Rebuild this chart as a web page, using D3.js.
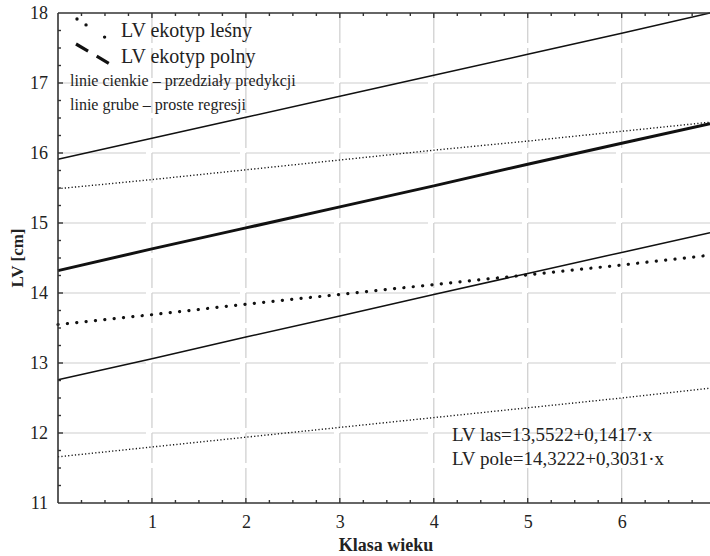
<!DOCTYPE html>
<html>
<head>
<meta charset="utf-8">
<script src="https://cdn.jsdelivr.net/npm/d3@7"></script>
<style>
  body { margin: 0; background: #fff; }
  svg text { font-family: 'Liberation Serif', 'Times New Roman', 'DejaVu Serif', serif !important; fill: #222; }
</style>
</head>
<body>
<div id="chart"></div>
<script>
// x positions (klasa wieku) where values were read
var xs = [0, 1, 2, 3, 4, 5, 6, 6.94];
// regression lines (thick)
var lasReg = [13.55, 13.69, 13.84, 13.98, 14.12, 14.26, 14.40, 14.54];
var poleReg = [14.32, 14.63, 14.93, 15.23, 15.53, 15.84, 16.14, 16.42];
// prediction intervals (thin)
var lasUpper = [15.49, 15.62, 15.76, 15.90, 16.04, 16.17, 16.31, 16.44];
var lasLower = [11.66, 11.80, 11.94, 12.08, 12.22, 12.36, 12.50, 12.64];
var poleUpper = [15.91, 16.21, 16.51, 16.81, 17.11, 17.41, 17.71, 18.00];
var poleLower = [12.76, 13.06, 13.37, 13.67, 13.98, 14.28, 14.58, 14.86];

var xTicks = [1, 2, 3, 4, 5, 6];
var yTicks = [11, 12, 13, 14, 15, 16, 17, 18];
var legendLabels = ["LV ekotyp leśny", "LV ekotyp polny"];
var notes = ["linie cienkie – przedziały predykcji", "linie grube – proste regresji"];
var equations = ["LV las=13,5522+0,1417·x", "LV pole=14,3222+0,3031·x"];

var width = 710, height = 556;
var margin = {left: 58, right: 0, top: 13, bottom: 53};
var serif = "'Liberation Serif', 'Times New Roman', serif";

var svg = d3.select("#chart").append("svg")
    .attr("width", width)
    .attr("height", height)
    .style("font-family", serif);

var x = d3.scaleLinear().domain([0, 6.94]).range([margin.left, width - margin.right]);
var y = d3.scaleLinear().domain([11, 18]).range([height - margin.bottom, margin.top]);

// grid
var grid = svg.append("g").attr("stroke", "#cdcdcd").attr("stroke-width", 1.2);
grid.selectAll(".vg").data(xTicks).enter().append("line")
    .attr("x1", function(d) { return x(d); })
    .attr("x2", function(d) { return x(d); })
    .attr("y1", y(18)).attr("y2", y(11))
    .attr("stroke-dasharray", "30,5");
grid.selectAll(".hg").data(yTicks.slice(1, -1)).enter().append("line")
    .attr("x1", x(0)).attr("x2", width)
    .attr("y1", function(d) { return y(d); })
    .attr("y2", function(d) { return y(d); })
    .attr("stroke-dasharray", "88,6");

// series
function series(vals) {
    return xs.map(function(v, i) { return [v, vals[i]]; });
}
var line = d3.line()
    .x(function(d) { return x(d[0]); })
    .y(function(d) { return y(d[1]); });

var lines = [
    {vals: poleUpper, w: 1.5, dash: null, cap: "butt"},
    {vals: poleLower, w: 1.5, dash: null, cap: "butt"},
    {vals: lasUpper, w: 1.4, dash: "1.2,2.2", cap: "butt"},
    {vals: lasLower, w: 1.4, dash: "1.2,2.2", cap: "butt"},
    {vals: poleReg, w: 3, dash: null, cap: "butt"},
    {vals: lasReg, w: 3.2, dash: "0.1,9.3", cap: "round"}
];
svg.append("g").selectAll("path").data(lines).enter().append("path")
    .attr("d", function(d) { return line(series(d.vals)); })
    .attr("fill", "none")
    .attr("stroke", "#111")
    .attr("stroke-width", function(d) { return d.w; })
    .attr("stroke-dasharray", function(d) { return d.dash; })
    .attr("stroke-linecap", function(d) { return d.cap; });

// axes
var xAxis = d3.axisBottom(x).tickValues(xTicks).tickSize(0).tickPadding(12)
    .tickFormat(d3.format("d"));
var gx = svg.append("g").attr("transform", "translate(0," + y(11) + ")").call(xAxis);
var yAxis = d3.axisLeft(y).tickValues(yTicks).tickSize(0).tickPadding(10)
    .tickFormat(d3.format("d"));
var gy = svg.append("g").attr("transform", "translate(" + x(0) + ",0)").call(yAxis);
[gx, gy].forEach(function(g) {
    g.attr("font-family", null);
    g.select(".domain").remove();
    g.selectAll("text").attr("font-size", 18).attr("fill", "#222")
        .style("font-family", serif);
});

// frame and inward ticks
var frame = svg.append("g").attr("stroke", "#333").attr("stroke-width", 1.6);
frame.append("line").attr("x1", x(0)).attr("x2", width).attr("y1", y(11)).attr("y2", y(11));
frame.append("line").attr("x1", x(0)).attr("x2", width).attr("y1", y(18)).attr("y2", y(18));
frame.append("line").attr("x1", x(0)).attr("x2", x(0)).attr("y1", y(18)).attr("y2", y(11));

var xMinor = d3.range(0.25, 6.94, 0.25);
var yMinor = d3.range(11.25, 18, 0.25);
var ticks = svg.append("g").attr("stroke", "#333").attr("stroke-width", 1.4);
ticks.selectAll(".xb").data(xMinor).enter().append("line")
    .attr("x1", function(d) { return x(d); }).attr("x2", function(d) { return x(d); })
    .attr("y1", y(11)).attr("y2", function(d) { return y(11) - (d % 1 === 0 ? 5 : 3); });
ticks.selectAll(".xt").data(xMinor).enter().append("line")
    .attr("x1", function(d) { return x(d); }).attr("x2", function(d) { return x(d); })
    .attr("y1", y(18)).attr("y2", function(d) { return y(18) + (d % 1 === 0 ? 5 : 3); });
ticks.selectAll(".yl").data(yMinor).enter().append("line")
    .attr("x1", x(0)).attr("x2", function(d) { return x(0) + (d % 1 === 0 ? 5 : 3); })
    .attr("y1", function(d) { return y(d); }).attr("y2", function(d) { return y(d); });

// axis titles
svg.append("text").attr("x", 386).attr("y", 551).attr("text-anchor", "middle")
    .attr("font-size", 18).attr("font-weight", "bold").attr("fill", "#333")
    .text("Klasa wieku");
svg.append("text").attr("transform", "translate(23,258) rotate(-90)")
    .attr("text-anchor", "middle").attr("font-size", 17).attr("font-weight", "bold")
    .attr("fill", "#333").text("LV [cm]");

// legend
var leg = svg.append("g");
leg.append("line").attr("x1", 77).attr("y1", 19).attr("x2", 106).attr("y2", 38)
    .attr("stroke", "#111").attr("stroke-width", 3.4).attr("stroke-linecap", "round")
    .attr("stroke-dasharray", "0,10.8,0,22.2,0,60");
leg.append("line").attr("x1", 76).attr("y1", 44).attr("x2", 110).attr("y2", 64)
    .attr("stroke", "#111").attr("stroke-width", 3.2)
    .attr("stroke-dasharray", "14,10");
leg.selectAll(".lt").data(legendLabels).enter().append("text")
    .attr("x", 121).attr("y", function(d, i) { return 37 + i * 26; })
    .attr("font-size", 20).text(function(d) { return d; });
leg.selectAll(".nt").data(notes).enter().append("text")
    .attr("x", 70).attr("y", function(d, i) { return 86 + i * 24; })
    .attr("font-size", 16).text(function(d) { return d; });

// equations
svg.selectAll(".eq").data(equations).enter().append("text")
    .attr("x", 452).attr("y", function(d, i) { return 441 + i * 24; })
    .attr("font-size", 19).text(function(d) { return d; });
</script>
</body>
</html>
